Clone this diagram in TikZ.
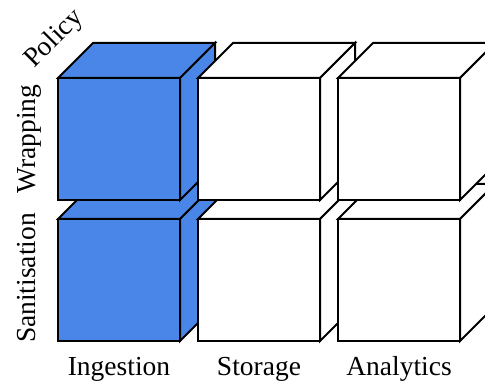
\documentclass[tikz,border=0pt]{standalone}
\usepackage{fontspec}
\setmainfont{Liberation Serif}
\definecolor{cubeblue}{HTML}{4A86E8}
\tikzset{
  face/.style={draw=black, line width=2pt, line join=miter},
  lbl/.style={inner sep=0pt, anchor=base, font=\fontsize{27.5}{30}\selectfont}
}
% cube with front face top-left corner at (#1,#2), filled with #3
\newcommand{\gridcube}[3]{%
  \fill[#3] (#1,#2) rectangle ++(122,122);
  \draw[face, fill=#3] (#1,#2) -- ++(35,-35) -- ++(122,0) -- ++(-35,35) -- cycle;
  \draw[face, fill=#3] (#1+122,#2) -- ++(35,-35) -- ++(0,122) -- ++(-35,35) -- cycle;
  \draw[face] (#1,#2) rectangle ++(122,122);
}
\begin{document}
\begin{tikzpicture}[x=1pt, y=-1pt]
  \useasboundingbox (0,0) rectangle (485,385);
  \clip (0,0) rectangle (485,385);
  % lower row (Sanitisation)
  \gridcube{58}{219}{cubeblue}
  \gridcube{198}{219}{white}
  \gridcube{338}{219}{white}
  % upper row (Wrapping)
  \gridcube{58}{78}{cubeblue}
  \gridcube{198}{78}{white}
  \gridcube{338}{78}{white}
  % column labels
  \node[lbl] (ing) at (119,375) {Ingestion};
  \node[lbl] (sto) at (259,375) {Storage};
  \node[lbl] (ana) at (399,375) {Analytics};
  % row labels
  \node[lbl, rotate=90] (wrap) at (35,139) {Wrapping};
  \node[lbl, rotate=90] (san) at (35,278) {Sanitisation};
  \node[lbl, rotate=45] (pol) at (59,44) {Policy};
\end{tikzpicture}
\end{document}
